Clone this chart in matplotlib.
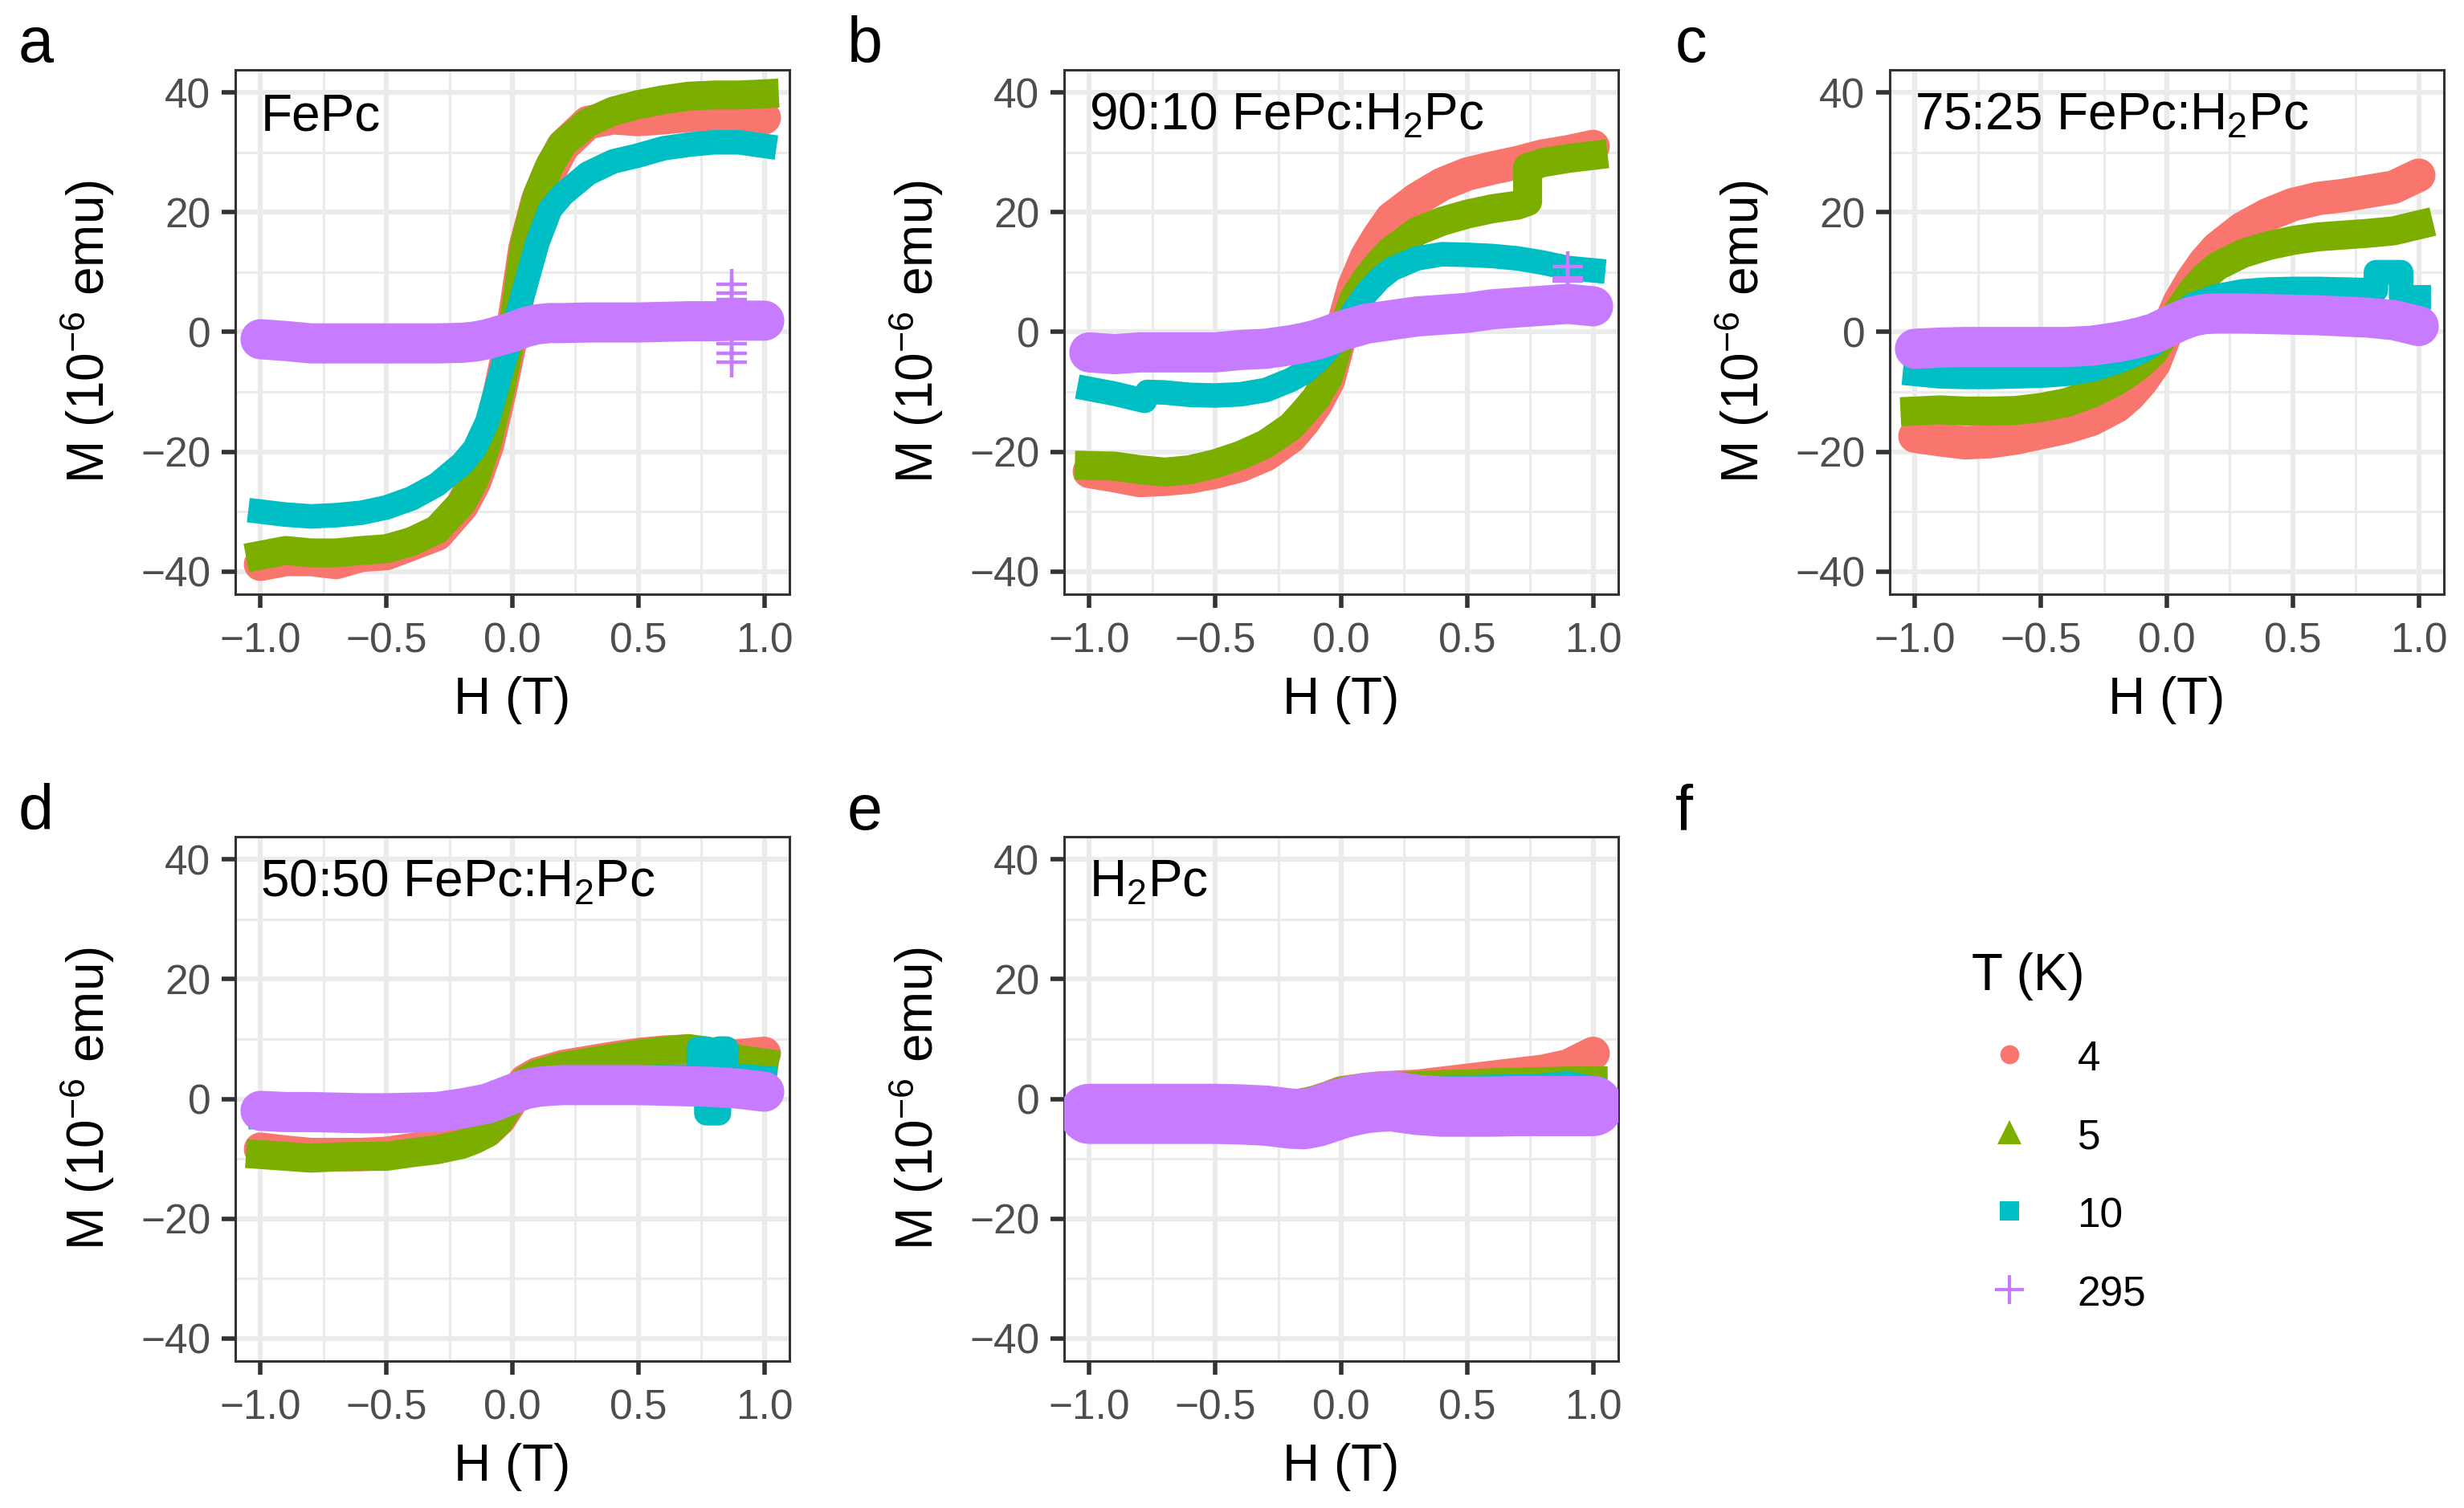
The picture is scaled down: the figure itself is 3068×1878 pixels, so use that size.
import matplotlib
matplotlib.use('Agg')
import matplotlib.pyplot as plt
from matplotlib.lines import Line2D
from matplotlib.ticker import MultipleLocator

plt.rcParams['font.family'] = ['Liberation Sans', 'DejaVu Sans']
plt.rcParams['mathtext.fontset'] = 'custom'
plt.rcParams['mathtext.rm'] = 'Liberation Sans'
plt.rcParams['mathtext.it'] = 'Liberation Sans:italic'
plt.rcParams['mathtext.bf'] = 'Liberation Sans:bold'

# --- data (H in T, M in 1e-6 emu) ---
h_grid = [-1.0, -0.9, -0.8, -0.7, -0.6, -0.5, -0.4, -0.3, -0.2, -0.15, -0.1, -0.05,
          0.0, 0.05, 0.1, 0.15, 0.2, 0.3, 0.4, 0.5, 0.6, 0.7, 0.8, 0.9, 1.0]

temps = ['4', '5', '10', '295']
colors = ['#F8766D', '#7CAE00', '#00BFC4', '#C77CFF']
markers = ['o', '^', 's', '+']

# a: FePc
a_4 = [-38.8, -38.0, -38.0, -38.5, -37.3, -37.0, -35.4, -33.8, -29.0, -25.0, -19.0, -10.0,
       0.0, 14.0, 22.0, 27.0, 31.0, 35.0, 35.8, 35.5, 35.8, 36.2, 36.2, 36.2, 35.8]
a_5 = [-37.3, -36.5, -36.9, -36.9, -36.5, -36.2, -35.0, -33.0, -28.5, -24.6, -18.5, -10.0,
       0.0, 15.0, 23.0, 28.0, 31.5, 35.0, 36.9, 38.0, 38.8, 39.4, 39.6, 39.6, 39.8]
a_10 = [-30.0, -30.5, -30.8, -30.6, -30.2, -29.3, -27.8, -25.5, -22.0, -19.5, -15.0, -7.5,
        0.0, 7.5, 15.0, 20.5, 23.0, 26.5, 28.5, 29.5, 30.7, 31.3, 31.7, 31.7, 31.1]
a_295 = [-1.2, -1.5, -1.9, -1.9, -1.9, -1.9, -1.9, -1.9, -1.8, -1.6, -1.2, -0.6,
         0.0, 0.8, 1.3, 1.5, 1.5, 1.6, 1.6, 1.6, 1.7, 1.8, 1.8, 1.9, 1.9]
a_spike_h = [0.87, 0.87, 0.87, 0.87, 0.87, 0.87]
a_spike_m = [8.0, 6.5, 5.5, -2.0, -3.5, -5.0]

# b: 90:10 FePc:H2Pc
b_4 = [-23.3, -24.0, -24.8, -24.6, -24.2, -23.4, -22.3, -20.5, -17.5, -15.0, -12.0, -8.0,
       0.0, 7.5, 12.5, 16.0, 19.0, 22.2, 24.7, 26.4, 27.4, 28.3, 29.4, 30.1, 31.0]
b_5_h = [-1.0, -0.9, -0.8, -0.7, -0.6, -0.5, -0.4, -0.3, -0.2, -0.15, -0.1, -0.05,
         0.0, 0.05, 0.1, 0.15, 0.2, 0.3, 0.4, 0.5, 0.6, 0.7, 0.74, 0.74, 0.8, 0.9, 1.0]
b_5 = [-22.3, -22.4, -23.0, -23.4, -23.0, -22.0, -20.6, -18.7, -15.8, -13.5, -11.0, -7.5,
       -0.5, 5.6, 8.9, 11.5, 13.7, 16.8, 18.5, 19.7, 20.6, 21.2, 21.8, 27.5, 28.3, 29.0, 29.5]
b_10_h = [-1.0, -0.9, -0.78, -0.77, -0.7, -0.6, -0.5, -0.4, -0.3, -0.2, -0.15, -0.1, -0.05,
          0.0, 0.05, 0.1, 0.15, 0.2, 0.3, 0.4, 0.5, 0.6, 0.7, 0.8, 0.9, 1.0]
b_10 = [-9.5, -10.3, -11.5, -10.0, -10.1, -10.5, -10.6, -10.4, -9.7, -8.0, -6.8, -5.0, -2.8,
        0.0, 3.5, 6.5, 8.8, 10.5, 12.3, 13.0, 12.9, 12.7, 12.3, 11.6, 10.7, 10.3]
b_295 = [-3.4, -3.7, -3.4, -3.4, -3.4, -3.4, -3.0, -2.8, -2.2, -1.8, -1.3, -0.6,
         0.2, 0.8, 1.4, 1.7, 2.0, 2.6, 2.9, 3.2, 3.8, 4.1, 4.4, 4.7, 4.3]
b_spike_h = [0.9, 0.9, 0.9]
b_spike_m = [11.0, 9.0, 8.5]

# c: 75:25 FePc:H2Pc
c_4 = [-17.4, -18.0, -18.5, -18.3, -17.7, -16.8, -15.9, -14.6, -12.4, -10.6, -8.2, -5.2,
       0.2, 5.0, 8.6, 11.6, 14.0, 17.3, 19.6, 21.3, 22.3, 22.8, 23.5, 24.2, 26.2]
c_5 = [-13.2, -13.0, -13.2, -13.2, -13.1, -12.6, -11.8, -10.3, -8.2, -6.8, -5.2, -3.2,
       0.2, 3.8, 6.8, 9.2, 11.0, 13.1, 14.4, 15.3, 15.9, 16.2, 16.5, 16.9, 17.9]
c_10_h = [-1.0, -0.9, -0.8, -0.7, -0.6, -0.5, -0.4, -0.3, -0.2, -0.15, -0.1, -0.05,
          0.0, 0.05, 0.1, 0.2, 0.3, 0.4, 0.5, 0.6, 0.7, 0.8, 0.83, 0.83, 0.93, 0.93, 1.0]
c_10 = [-7.0, -7.4, -7.5, -7.5, -7.4, -7.3, -7.0, -6.3, -5.0, -4.2, -3.2, -2.0,
        0.2, 2.8, 4.5, 6.0, 6.8, 7.1, 7.2, 7.2, 7.1, 7.0, 7.0, 10.0, 10.0, 5.8, 5.8]
c_295 = [-2.8, -2.6, -2.5, -2.5, -2.5, -2.5, -2.5, -2.3, -1.7, -1.3, -0.8, -0.2,
         0.8, 1.8, 2.6, 3.0, 3.1, 3.1, 3.0, 2.9, 2.8, 2.6, 2.4, 2.0, 1.0]

# d: 50:50 FePc:H2Pc
d_4 = [-8.4, -8.9, -9.3, -9.3, -9.3, -9.1, -8.5, -7.8, -7.0, -6.2, -5.3, -3.3,
       0.0, 3.0, 4.2, 4.8, 5.4, 6.1, 6.8, 7.4, 7.8, 8.0, 7.0, 7.2, 7.6]
d_5 = [-9.3, -9.6, -9.9, -9.7, -9.6, -9.6, -9.0, -8.5, -7.6, -6.8, -5.7, -3.6,
       0.0, 3.0, 4.2, 4.8, 5.4, 6.1, 6.8, 7.5, 8.0, 8.4, 7.8, 6.6, 6.0]
d_10_h = [-1.0, -0.8, -0.6, -0.4, -0.2, -0.1, 0.0, 0.1, 0.2, 0.4, 0.6, 0.74, 0.74,
          0.77, 0.77, 0.82, 0.82, 0.85, 0.85, 0.9, 1.0]
d_10 = [-3.0, -2.8, -2.8, -2.7, -2.0, -1.0, 0.8, 2.3, 3.0, 3.4, 3.6, 3.6, 8.4,
        8.4, -2.4, -2.4, 8.4, 8.4, 3.8, 3.8, 3.5]
d_295 = [-2.0, -2.2, -2.2, -2.3, -2.4, -2.4, -2.3, -2.2, -1.6, -1.2, -0.8, 0.0,
         0.8, 1.6, 2.0, 2.2, 2.3, 2.3, 2.3, 2.3, 2.2, 2.1, 2.0, 1.7, 1.2]

# e: H2Pc
e_4 = [-2.5, -2.5, -2.5, -2.5, -2.5, -2.5, -2.4, -2.2, -1.6, -1.1, -0.5, 0.2,
       1.0, 1.3, 1.6, 1.8, 1.9, 2.1, 2.6, 3.1, 3.6, 4.1, 4.6, 5.5, 7.6]
e_5 = [-2.5, -2.5, -2.5, -2.5, -2.5, -2.4, -2.2, -1.8, -1.0, -0.6, -0.2, 0.5,
       1.3, 1.6, 1.8, 1.9, 2.0, 2.2, 2.4, 2.5, 2.7, 2.8, 2.9, 3.0, 3.0]
e_10 = [-2.6, -2.6, -2.6, -2.6, -2.6, -2.5, -2.3, -2.0, -1.3, -0.9, -0.5, 0.1,
        0.7, 1.0, 1.2, 1.3, 1.4, 1.5, 1.7, 1.9, 2.0, 2.1, 2.2, 2.6, 1.8]
e_295 = [-2.5, -2.5, -2.5, -2.5, -2.5, -2.5, -2.6, -2.8, -3.3, -3.4, -3.0, -2.3,
         -1.6, -1.1, -0.7, -0.5, -0.4, -1.0, -1.3, -1.3, -1.3, -1.2, -1.2, -1.2, -1.2]

panels = [
    ('a', 'FePc', [(h_grid, a_4), (h_grid, a_5), (h_grid, a_10), (h_grid, a_295)],
     (a_spike_h, a_spike_m)),
    ('b', r'90:10 FePc:H$_2$Pc', [(h_grid, b_4), (b_5_h, b_5), (b_10_h, b_10), (h_grid, b_295)],
     (b_spike_h, b_spike_m)),
    ('c', r'75:25 FePc:H$_2$Pc', [(h_grid, c_4), (h_grid, c_5), (c_10_h, c_10), (h_grid, c_295)],
     None),
    ('d', r'50:50 FePc:H$_2$Pc', [(h_grid, d_4), (h_grid, d_5), (d_10_h, d_10), (h_grid, d_295)],
     None),
    ('e', r'H$_2$Pc', [(h_grid, e_4), (h_grid, e_5), (h_grid, e_10), (h_grid, e_295)],
     None),
]

# band thickness (pt) of the dense marker clouds, per temperature
band_lw = [15, 13, 11, 18]
noise_lw = [18, 18, 18, 18, 27]

W, H = 3068, 1878
fig = plt.figure(figsize=(W / 200, H / 200), dpi=200)

col_left = [293, 1325, 2353]
row_top = [87, 1042]
pw, ph = 690, 653
letter_x = [23, 1055, 2086]
letter_base = [77, 1033]

for i, (letter, title, series, spikes) in enumerate(panels):
    r, c = divmod(i, 3)
    ax = fig.add_axes([col_left[c] / W, 1 - (row_top[r] + ph) / H, pw / W, ph / H])
    for k, (hh, mm) in enumerate(series):
        lw = band_lw[k] if k < 3 else noise_lw[i]
        cap = 'round' if k in (0, 3) else 'projecting'
        ax.plot(hh, mm, color=colors[k], lw=lw, solid_capstyle=cap,
                solid_joinstyle='round', zorder=2 + k)
    if spikes is not None:
        ax.plot(spikes[0], spikes[1], '+', color=colors[3], ms=14, mew=1.6, zorder=6)

    ax.set_xlim(-1.1, 1.1)
    ax.set_ylim(-43.8, 43.8)
    ax.set_xticks([-1, -0.5, 0, 0.5, 1])
    ax.set_xticklabels(['\u22121.0', '\u22120.5', '0.0', '0.5', '1.0'])
    ax.set_yticks([-40, -20, 0, 20, 40])
    ax.set_yticklabels(['\u221240', '\u221220', '0', '20', '40'])
    ax.xaxis.set_minor_locator(MultipleLocator(0.25))
    ax.yaxis.set_minor_locator(MultipleLocator(10))
    ax.grid(which='major', color='#EBEBEB', lw=2.2)
    ax.grid(which='minor', color='#EBEBEB', lw=1.1)
    ax.set_axisbelow(True)
    ax.tick_params(which='major', length=6, width=2.0, color='#333333',
                   labelsize=18.5, labelcolor='#4D4D4D', pad=5)
    ax.tick_params(axis='x', which='major', pad=6.5)
    ax.tick_params(which='minor', length=0)
    for sp in ax.spines.values():
        sp.set_color('#333333')
        sp.set_linewidth(1.1)
    ax.set_xlabel('H (T)', fontsize=23, labelpad=6.5)
    ax.set_ylabel(r'M (10$^{-6}$ emu)', fontsize=23, labelpad=11)
    ax.text(-1.0, 33.7, title, fontsize=23, va='baseline', ha='left', zorder=10)

    fig.text(letter_x[c] / W, 1 - letter_base[r] / H, letter, fontsize=28.5, va='baseline')

fig.text(letter_x[2] / W, 1 - letter_base[1] / H, 'f', fontsize=28.5, va='baseline')

handles = []
for k in range(4):
    if markers[k] == '+':
        handles.append(Line2D([], [], color=colors[k], marker='+', linestyle='none',
                              markersize=13, markeredgewidth=1.5))
    else:
        size = {'o': 8.5, '^': 10.5, 's': 8.5}[markers[k]]
        handles.append(Line2D([], [], color=colors[k], marker=markers[k], linestyle='none',
                              markersize=size, markeredgewidth=0))

fig.legend(handles, temps, title='T (K)', loc='upper left',
           bbox_to_anchor=(2455 / W, 1 - 1186 / H), frameon=False,
           fontsize=18.5, title_fontsize=23, alignment='left',
           handlelength=1.84, handletextpad=0.72, labelspacing=0.9,
           borderpad=0, borderaxespad=0, handleheight=1.0)

fig.savefig('out.png', dpi=200)
